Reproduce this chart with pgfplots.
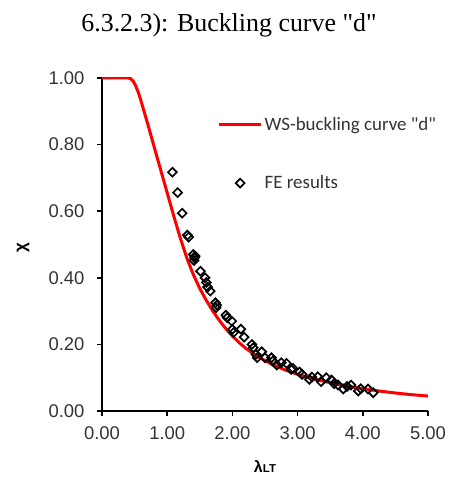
\documentclass[border=0pt]{standalone}
\usepackage{fontspec}
\setmainfont{Liberation Sans}
\newfontfamily\timesfont{Liberation Serif}
\newfontfamily\carlito{Carlito}
\usepackage{pgfplots}
\pgfplotsset{compat=1.18}
\pgfplotsset{
  curveleg/.style={legend image code/.code={\draw[##1] (0bp,0bp) -- (42bp,0bp);}},
  markleg/.style={legend image code/.code={\draw[##1] plot coordinates {(21bp,0bp)};}},
}
\begin{document}
\begin{tikzpicture}
\begin{axis}[
  scale only axis, width=326bp, height=333bp,
  xmin=0, xmax=5, ymin=0, ymax=1,
  axis lines*=left,
  axis line style={line width=1.6bp, black},
  xtick={0,1,2,3,4,5}, ytick={0,0.2,0.4,0.6,0.8,1.0},
  tick align=outside, major tick length=5bp,
  tick style={line width=1.6bp, black},
  /pgf/number format/.cd, fixed, fixed zerofill, precision=2, assume math mode=true, /pgfplots/.cd,
  ticklabel style={font=\fontsize{18.5}{22}\selectfont, text=black!80},
  xticklabel style={yshift=-7bp},
  yticklabel style={xshift=-9bp},
  xlabel={\bfseries\fontsize{16}{18}\selectfont λ\fontsize{11.5}{13}\selectfont LT},
  ylabel={\bfseries\fontsize{17}{18}\selectfont χ},
  xlabel style={at={(axis description cs:0.5,0)}, anchor=center, yshift=-56bp},
  ylabel style={at={(axis description cs:-0.242,0.49)}, anchor=center},
  legend cell align=left,
  legend style={draw=none, fill=none, at={(rel axis cs:0.345,0.895)}, anchor=north west,
    font=\carlito\fontsize{19}{23}\selectfont, text=black!80, row sep=40bp},
]
\addplot[red, line width=3bp, curveleg] coordinates {
(0.00,1.000) (0.40,1.000) (0.44,0.998) (0.48,0.990) (0.52,0.975) (0.56,0.955)
(0.60,0.930) (0.70,0.863) (0.80,0.793) (0.90,0.724) (1.00,0.655) (1.10,0.586)
(1.20,0.520) (1.30,0.460) (1.40,0.410) (1.50,0.368) (1.60,0.332) (1.70,0.300)
(1.80,0.272) (1.90,0.247) (2.00,0.225) (2.10,0.206) (2.20,0.189) (2.30,0.175)
(2.40,0.162) (2.60,0.141) (2.80,0.124) (3.00,0.110) (3.25,0.096) (3.50,0.085)
(3.75,0.075) (4.00,0.067) (4.25,0.060) (4.50,0.054) (4.75,0.049) (5.00,0.045)
};
\addlegendentry{WS-buckling curve "d"}
\addplot[only marks, mark=square, mark size=3.1bp,
  mark options={rotate=45, line width=1.7bp, draw=black, fill=none}, markleg] coordinates {
(1.08,0.717) (1.16,0.656) (1.23,0.594) (1.31,0.528) (1.33,0.522)
(1.40,0.470) (1.42,0.460) (1.41,0.452) (1.43,0.465) (1.51,0.420)
(1.58,0.400) (1.60,0.386) (1.62,0.372) (1.66,0.360) (1.74,0.325)
(1.76,0.318) (1.75,0.310) (1.90,0.288) (1.92,0.280) (1.99,0.270)
(2.02,0.236) (2.00,0.245) (2.13,0.246) (2.18,0.222) (2.30,0.200)
(2.32,0.190) (2.36,0.170) (2.38,0.160) (2.45,0.178) (2.50,0.160)
(2.60,0.160) (2.62,0.150) (2.68,0.138) (2.75,0.145) (2.83,0.143)
(2.90,0.125) (2.93,0.128) (3.03,0.117) (3.07,0.110) (3.18,0.095)
(3.22,0.102) (3.31,0.103) (3.36,0.088) (3.44,0.100) (3.52,0.093)
(3.56,0.082) (3.62,0.078) (3.70,0.066) (3.76,0.074) (3.82,0.078)
(3.93,0.060) (3.97,0.067) (4.08,0.066) (4.16,0.055)
};
\addlegendentry{FE results}
\coordinate (O) at (rel axis cs:0,0);
\end{axis}
\node[font=\timesfont\fontsize{26}{30}\selectfont, anchor=base] at ([shift={(127bp,379bp)}]O) {6.3.2.3): Buckling curve "d"};
\pgfresetboundingbox
\path[use as bounding box] ([shift={(-102bp,-66bp)}]O) rectangle ([shift={(350bp,411bp)}]O);
\end{tikzpicture}
\end{document}
